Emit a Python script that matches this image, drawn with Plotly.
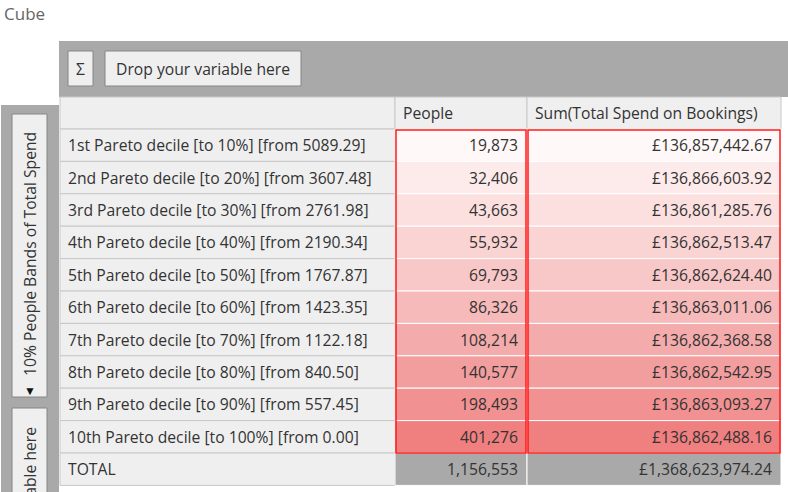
import plotly.graph_objects as go

# cube: people bands of total spend, by Pareto decile
row_labels = [
    "1st Pareto decile [to 10%] [from 5089.29]",
    "2nd Pareto decile [to 20%] [from 3607.48]",
    "3rd Pareto decile [to 30%] [from 2761.98]",
    "4th Pareto decile [to 40%] [from 2190.34]",
    "5th Pareto decile [to 50%] [from 1767.87]",
    "6th Pareto decile [to 60%] [from 1423.35]",
    "7th Pareto decile [to 70%] [from 1122.18]",
    "8th Pareto decile [to 80%] [from 840.50]",
    "9th Pareto decile [to 90%] [from 557.45]",
    "10th Pareto decile [to 100%] [from 0.00]",
]
people = [19873, 32406, 43663, 55932, 69793, 86326, 108214, 140577, 198493, 401276]
spend = [136857442.67, 136866603.92, 136861285.76, 136862513.47, 136862624.40,
         136863011.06, 136862368.58, 136862542.95, 136863093.27, 136862488.16]
col_headers = ["People", "Sum(Total Spend on Bookings)"]

# heat colours of the data cells, light to dark
heat = ["#fff8f8", "#fdeaea", "#fce0e0", "#fad3d3", "#f8c7c7",
        "#f6baba", "#f4abab", "#f39e9e", "#f19191", "#f07f7f"]

FONT = "Open Sans"
FS = 15.7
TXT = "#333333"
GREY = "#a9a9a9"
PANEL = "#efefef"

# table geometry (pixel units)
x_lab, x_ppl, x_sum, x_end = 60, 395, 527, 781
y_head = 97
head_h = 32
row_h = 32.4

shapes = []
ann = []

def rect(x0, y0, x1, y1, fill, line="rgba(0,0,0,0)", w=1):
    shapes.append(dict(type="rect", xref="x", yref="y", x0=x0, y0=y0, x1=x1, y1=y1,
                       fillcolor=fill, line=dict(color=line, width=w), layer="below"))

def text(x, y, s, anchor="left", size=FS, color=TXT, angle=0, yanchor="middle"):
    ann.append(dict(x=x, y=y, xref="x", yref="y", text=s, showarrow=False,
                    xanchor=anchor, yanchor=yanchor, textangle=angle,
                    font=dict(family=FONT, size=size, color=color)))

# title
text(2, 13, "Cube", size=17, color="#666666")

# drop zones
rect(59, 41, 788, 97, GREY)
rect(1, 105, 59, 492, GREY)
rect(68, 51, 93, 86, PANEL, "#858585")
text(80.5, 68.5, "Σ", anchor="center")
rect(105, 51, 301, 86, PANEL, "#858585")
text(203, 68.5, "Drop your variable here", anchor="center")
rect(12, 114, 47, 397, PANEL, "#858585")
text(30, 254, "10% People Bands of Total Spend", anchor="center", angle=-90)
text(30, 390, "▼", anchor="center", size=12, color="#111111")
rect(12, 408, 47, 520, PANEL, "#858585")
text(30, 425, "Drop your variable here", anchor="center", angle=-90, yanchor="top")

# header row
rect(x_lab, y_head, x_ppl, y_head + head_h, PANEL, "#c8c8c8")
rect(x_ppl, y_head, x_sum, y_head + head_h, PANEL, "#c8c8c8")
rect(x_sum, y_head, x_end, y_head + head_h, PANEL, "#c8c8c8")
text(x_ppl + 6, y_head + head_h / 2, col_headers[0])
text(x_sum + 6, y_head + head_h / 2, col_headers[1])

# body rows
y0 = y_head + head_h
for i, lab in enumerate(row_labels):
    top = y0 + i * row_h
    bot = top + row_h
    rect(x_lab, top, x_ppl, bot, PANEL, "#c8c8c8")
    rect(x_ppl, top, x_sum, bot, heat[i], "#ffffff")
    rect(x_sum, top, x_end, bot, heat[i], "#ffffff")
    text(x_lab + 6, (top + bot) / 2, lab)
    text(x_sum - 7, (top + bot) / 2, f"{people[i]:,}", anchor="right")
    text(x_end - 7, (top + bot) / 2, f"£{spend[i]:,.2f}", anchor="right")

# total row
top = y0 + len(row_labels) * row_h
bot = top + row_h
rect(x_lab, top, x_ppl, bot, PANEL, "#c8c8c8")
rect(x_ppl, top, x_sum, bot, GREY, "#ffffff")
rect(x_sum, top, x_end, bot, GREY, "#ffffff")
text(x_lab + 6, (top + bot) / 2, "TOTAL")
text(x_sum - 7, (top + bot) / 2, f"{sum(people):,}", anchor="right")
text(x_end - 7, (top + bot) / 2, f"£{sum(spend):,.2f}", anchor="right")

# red outline round each measure column
for xa, xb in [(x_ppl + 1, x_sum - 1), (x_sum + 1, x_end - 1)]:
    shapes.append(dict(type="rect", xref="x", yref="y", x0=xa, x1=xb, y0=y0 + 1,
                       y1=y0 + len(row_labels) * row_h, line=dict(color="#ff1a1a", width=1.5),
                       fillcolor="rgba(0,0,0,0)", layer="above"))

fig = go.Figure()
fig.update_layout(
    width=788, height=492,
    margin=dict(l=0, r=0, t=0, b=0),
    paper_bgcolor="white", plot_bgcolor="white",
    xaxis=dict(range=[0, 788], visible=False, fixedrange=True),
    yaxis=dict(range=[492, 0], visible=False, fixedrange=True),
    shapes=shapes, annotations=ann, showlegend=False,
)
fig.write_html("out.html", config={"displayModeBar": False},
               post_script="document.body.style.margin='0';document.body.style.overflow='hidden';")
